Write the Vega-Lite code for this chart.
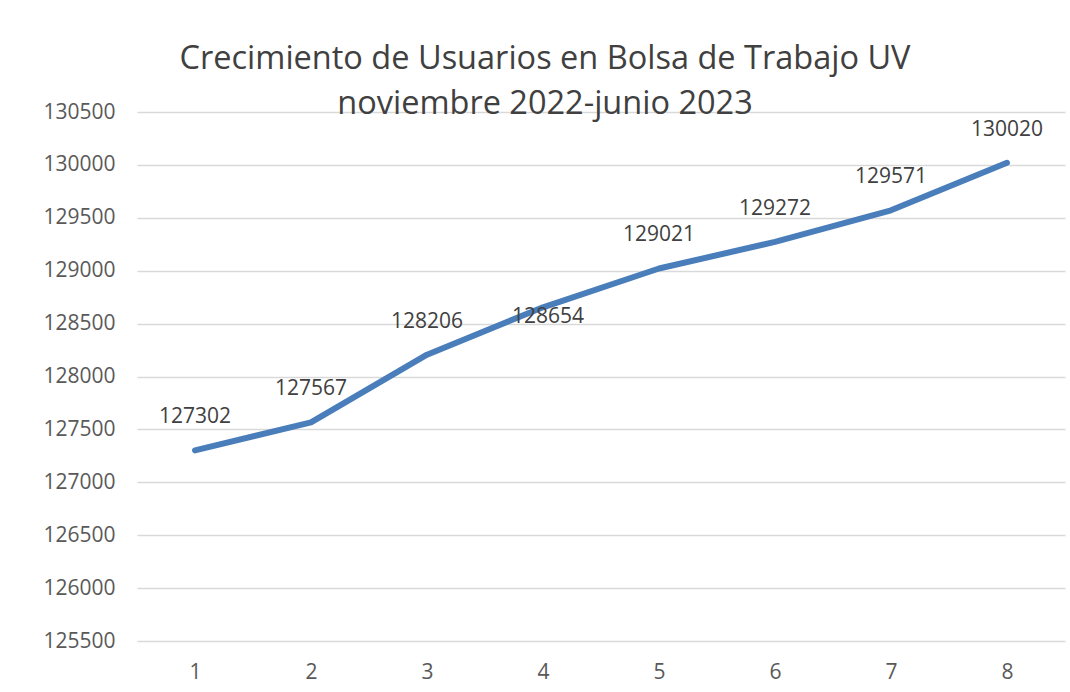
{
  "$schema": "https://vega.github.io/schema/vega-lite/v6.json",
  "width": 928,
  "height": 529,
  "autosize": {"type": "none"},
  "padding": {"left": 137, "top": 112, "right": 5, "bottom": 51},
  "background": "white",
  "config": {
    "font": "Open Sans",
    "view": {"stroke": null}
  },
  "title": {
    "text": ["Crecimiento de Usuarios en Bolsa de Trabajo UV", "noviembre 2022-junio 2023"],
    "fontSize": 32.5,
    "fontWeight": "normal",
    "color": "#404040",
    "font": "Open Sans",
    "anchor": "middle",
    "frame": "group",
    "dx": -56,
    "lineHeight": 45,
    "offset": -19
  },
  "data": {
    "values": [
      {"n": 1, "usuarios": 127302},
      {"n": 2, "usuarios": 127567},
      {"n": 3, "usuarios": 128206},
      {"n": 4, "usuarios": 128654},
      {"n": 5, "usuarios": 129021},
      {"n": 6, "usuarios": 129272},
      {"n": 7, "usuarios": 129571},
      {"n": 8, "usuarios": 130020}
    ]
  },
  "encoding": {
    "x": {
      "field": "n",
      "type": "ordinal",
      "scale": {"type": "point", "padding": 0.5},
      "axis": {
        "title": null,
        "labelAngle": 0,
        "domain": false,
        "ticks": false,
        "grid": false,
        "labelFontSize": 21,
        "labelColor": "#595959",
        "labelPadding": 20
      }
    },
    "y": {
      "field": "usuarios",
      "type": "quantitative",
      "scale": {"domain": [125500, 130500], "nice": false, "zero": false},
      "axis": {
        "title": null,
        "values": [125500, 126000, 126500, 127000, 127500, 128000, 128500, 129000, 129500, 130000, 130500],
        "format": "d",
        "domain": false,
        "ticks": false,
        "grid": true,
        "gridColor": "#d9d9d9",
        "gridWidth": 1.6,
        "labelFontSize": 21,
        "labelColor": "#595959",
        "labelPadding": 22
      }
    }
  },
  "layer": [
    {
      "mark": {"type": "line", "color": "#4a7ebb", "strokeWidth": 6, "strokeCap": "round", "strokeJoin": "round"}
    },
    {
      "transform": [{"filter": "datum.n != 4"}],
      "mark": {"type": "text", "dy": -33, "baseline": "middle", "fontSize": 21, "color": "#404040"},
      "encoding": {"text": {"field": "usuarios", "type": "quantitative", "format": "d"}}
    },
    {
      "transform": [{"filter": "datum.n == 4"}],
      "mark": {"type": "text", "dy": 10, "dx": 5, "baseline": "middle", "fontSize": 21, "color": "#404040"},
      "encoding": {"text": {"field": "usuarios", "type": "quantitative", "format": "d"}}
    }
  ]
}
